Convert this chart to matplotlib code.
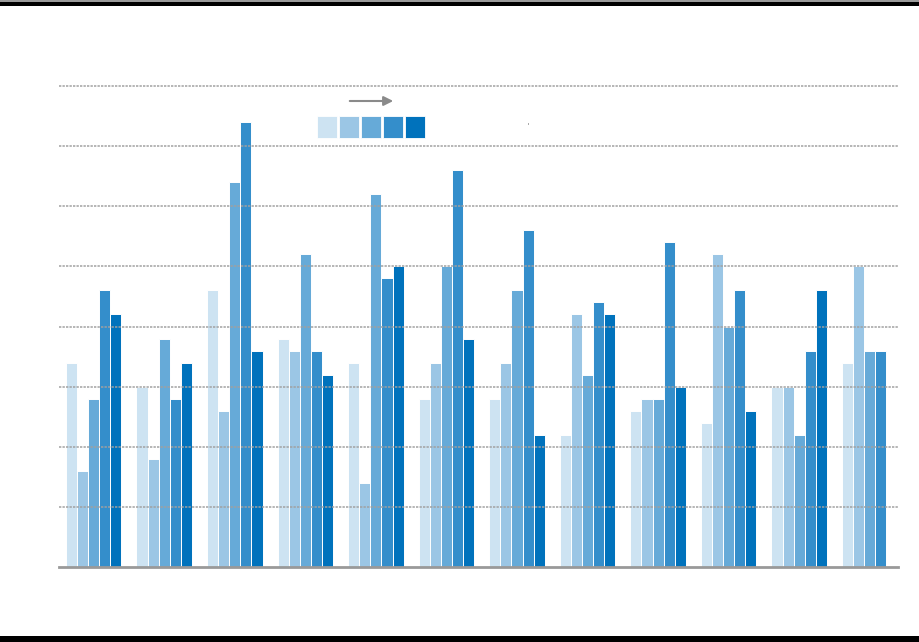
import numpy as np
import matplotlib
matplotlib.use("Agg")
from matplotlib import pyplot as plt
from matplotlib.patches import Rectangle, FancyArrowPatch

# values for 12 groups, one list per shade (light -> dark)
s1 = [17, 15, 23, 19, 17, 14, 14, 11, 13, 12, 15, 17]
s2 = [8, 9, 13, 18, 7, 17, 17, 21, 14, 26, 15, 25]
s3 = [14, 19, 32, 26, 31, 25, 23, 16, 14, 20, 11, 18]
s4 = [23, 14, 37, 18, 24, 33, 28, 22, 27, 23, 18, 18]
s5 = [21, 17, 18, 16, 25, 19, 11, 21, 15, 13, 23]  # last group has no dark bar
series = [s1, s2, s3, s4, s5]
colors = ['#cde3f2', '#9bc6e5', '#66aad8', '#348ecb', '#0072bc']

W, H = 920, 642
fig = plt.figure(figsize=(W / 100, H / 100), dpi=100)
fig.patch.set_facecolor('white')

# black bands at top and bottom
fig.add_artist(Rectangle((0, 1 - 6 / H), 1, 6 / H, transform=fig.transFigure,
                         facecolor='black', edgecolor='none'))
fig.add_artist(Rectangle((0, 1 - 1.5 / H), 1, 1.5 / H, transform=fig.transFigure,
                         facecolor='#9a9a9a', edgecolor='none'))
fig.add_artist(Rectangle((0, 0), 1, 6 / H, transform=fig.transFigure,
                         facecolor='black', edgecolor='none'))

ymax = 40.5
unit = (567 - 86) / 40
top_px = 567 - ymax * unit
ax = fig.add_axes([59 / W, (H - 567) / H, (898 - 59) / W, (567 - top_px) / H])
ax.set_facecolor('none')

x = np.arange(12)
bw = 0.1575
for i, (vals, c) in enumerate(zip(series, colors)):
    xs = x[:len(vals)] + (i - 2) * bw
    ax.bar(xs, vals, width=bw, color=c, edgecolor='white', linewidth=0.7, zorder=2)

ax.set_xlim(-0.492, 11.4)
ax.set_ylim(0, ymax)
ax.set_yticks(np.arange(5, 41, 5))
ax.set_xticks([])
ax.tick_params(left=False, labelleft=False, bottom=False, labelbottom=False)
ax.grid(axis='y', color='#a0a0a0', linestyle=(0, (1.4, 0.7)), linewidth=1.2, alpha=0.9)
ax.set_axisbelow(False)
for side in ['left', 'right', 'top']:
    ax.spines[side].set_visible(False)
ax.spines['bottom'].set_color('#999999')
ax.spines['bottom'].set_linewidth(2)
ax.spines['bottom'].set_zorder(4)

# legend swatches and arrow
for k, c in enumerate(colors):
    x0 = 317 + k * 22
    fig.add_artist(Rectangle((x0 / W, (H - 138) / H), 20.5 / W, 22 / H,
                             transform=fig.transFigure, facecolor=c,
                             edgecolor='white', linewidth=0.6))
fig.add_artist(FancyArrowPatch((347 / W, (H - 101) / H), (396 / W, (H - 101) / H),
                               transform=fig.transFigure, arrowstyle='-|>',
                               mutation_scale=14, color='#8a8a8a', linewidth=1.5))
fig.add_artist(Rectangle((527.5 / W, (H - 124.5) / H), 1.2 / W, 1.2 / H,
                         transform=fig.transFigure, facecolor='#aaaaaa', edgecolor='none'))

fig.savefig('out.png', dpi=100)
